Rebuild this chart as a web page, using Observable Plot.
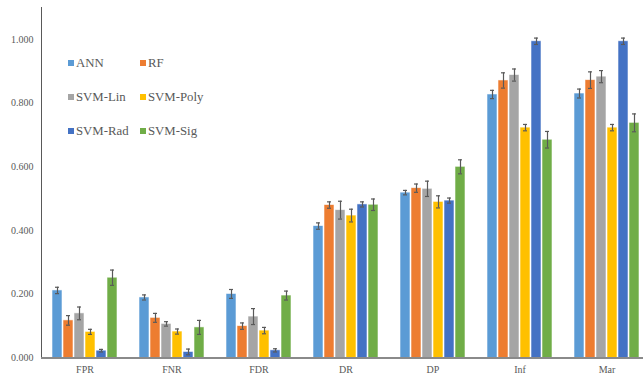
<!DOCTYPE html>
<html>
<head>
<meta charset="utf-8">
<script src="https://cdn.jsdelivr.net/npm/d3@7"></script>
<script src="https://cdn.jsdelivr.net/npm/@observablehq/plot@0.6"></script>
<style>
  body { margin: 0; background: #fff; overflow: hidden; }
  #chart { position: relative; width: 643px; height: 378px; overflow: hidden; background: #fff; }
  #chart svg { max-width: none !important; }
  .legend { position: absolute; left: 68px; top: 56px; display: grid;
            grid-template-columns: 72px 84px; grid-auto-rows: 34px;
            font-family: "Liberation Serif", serif; font-size: 12.8px; color: #595959; }
  .legend .item { display: flex; align-items: center; height: 14px; white-space: nowrap; }
  .legend .sw { width: 6px; height: 6px; margin-right: 2px; flex: none; }
</style>
</head>
<body>
<div id="chart"></div>
<script>
// Evaluation metrics (groups along the x axis) and classifiers (bars within a group)
const metrics = ["FPR", "FNR", "FDR", "DR", "DP", "Inf", "Mar"];
const models = ["ANN", "RF", "SVM-Lin", "SVM-Poly", "SVM-Rad", "SVM-Sig"];
const colors = ["#5B9BD5", "#ED7D31", "#A5A5A5", "#FFC000", "#4472C4", "#70AD47"];
const yTicks = [0, 0.2, 0.4, 0.6, 0.8, 1.0];

// Mean score per metric, one array per classifier (order follows `metrics`)
const annMean     = [0.212, 0.190, 0.201, 0.414, 0.519, 0.827, 0.830];
const rfMean      = [0.118, 0.126, 0.100, 0.480, 0.533, 0.871, 0.872];
const svmLinMean  = [0.140, 0.107, 0.130, 0.464, 0.531, 0.888, 0.883];
const svmPolyMean = [0.082, 0.083, 0.086, 0.447, 0.490, 0.723, 0.723];
const svmRadMean  = [0.023, 0.019, 0.024, 0.482, 0.494, 0.994, 0.994];
const svmSigMean  = [0.252, 0.096, 0.196, 0.481, 0.600, 0.685, 0.738];

// Error-bar half widths (standard deviation)
const annErr     = [0.010, 0.008, 0.014, 0.010, 0.007, 0.013, 0.014];
const rfErr      = [0.015, 0.014, 0.010, 0.010, 0.013, 0.024, 0.026];
const svmLinErr  = [0.020, 0.007, 0.025, 0.028, 0.024, 0.019, 0.019];
const svmPolyErr = [0.008, 0.008, 0.010, 0.020, 0.019, 0.010, 0.010];
const svmRadErr  = [0.004, 0.009, 0.005, 0.008, 0.008, 0.010, 0.010];
const svmSigErr  = [0.024, 0.022, 0.014, 0.018, 0.022, 0.026, 0.028];

const meanSeries = [annMean, rfMean, svmLinMean, svmPolyMean, svmRadMean, svmSigMean];
const errSeries  = [annErr, rfErr, svmLinErr, svmPolyErr, svmRadErr, svmSigErr];

const rows = [];
metrics.forEach((metric, i) => {
  models.forEach((model, j) => {
    rows.push({ metric, model, value: meanSeries[j][i], err: errSeries[j][i] });
  });
});

const axisGrey = "#8a8a8a";
const textGrey = "#595959";

const chart = Plot.plot({
  width: 651,
  height: 378,
  marginLeft: 40,
  marginRight: 0,
  marginTop: 7,
  marginBottom: 20.5,
  style: { fontFamily: "Liberation Serif, serif", background: "#fff", color: textGrey, maxWidth: "none" },
  fx: { domain: metrics, paddingInner: 0, paddingOuter: 0, label: null, tickSize: 0, tickPadding: 8, fontSize: 12 },
  x: { domain: models, paddingInner: 0.1, paddingOuter: 0.835, axis: null },
  y: { domain: [0, 1.1], ticks: yTicks, tickFormat: d3.format(".3f"), tickSize: 0, tickPadding: 8, label: null, fontSize: 8.5, line: true },
  color: { domain: models, range: colors },
  marks: [
    Plot.barY(rows, { fx: "metric", x: "model", y: "value", fill: "model", stroke: "#fff", strokeWidth: 0.8, strokeOpacity: 0.7 }),
    Plot.ruleX(rows, { fx: "metric", x: "model", y1: d => d.value - d.err, y2: d => d.value + d.err, stroke: "#595959", strokeWidth: 1.2 }),
    Plot.tickY(rows, { fx: "metric", x: "model", y: d => d.value - d.err, stroke: "#595959", strokeWidth: 1.2, insetLeft: 3, insetRight: 3 }),
    Plot.tickY(rows, { fx: "metric", x: "model", y: d => d.value + d.err, stroke: "#595959", strokeWidth: 1.2, insetLeft: 3, insetRight: 3 }),
    Plot.ruleY([0], { stroke: axisGrey, strokeWidth: 2 })
  ]
});

const root = document.getElementById("chart");
root.appendChild(chart);

// Legend laid over the upper-left part of the plot
const legend = document.createElement("div");
legend.className = "legend";
models.forEach((m, j) => {
  const item = document.createElement("div");
  item.className = "item";
  const sw = document.createElement("span");
  sw.className = "sw";
  sw.style.background = colors[j];
  item.appendChild(sw);
  item.appendChild(document.createTextNode(m));
  legend.appendChild(item);
});
root.appendChild(legend);
</script>
</body>
</html>
